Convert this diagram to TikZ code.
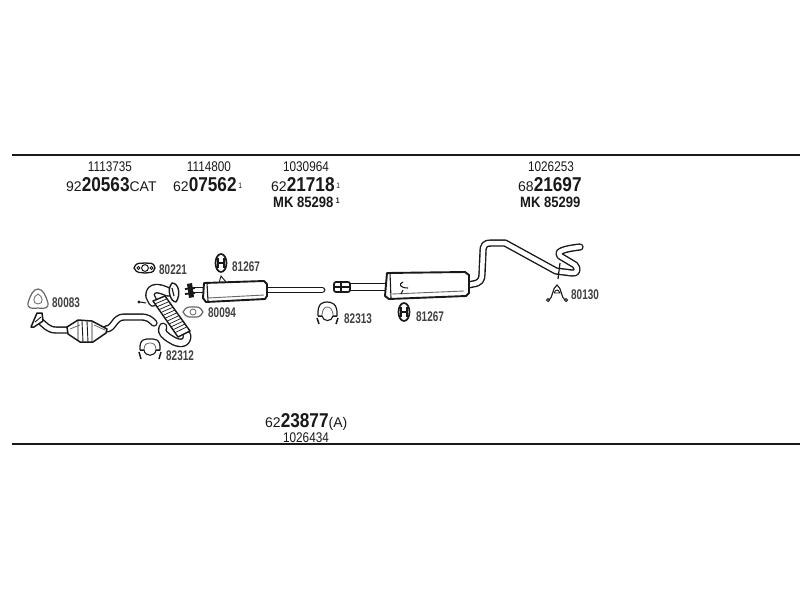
\documentclass[tikz,border=0pt]{standalone}
\usepackage{fontspec}
\usetikzlibrary{calc}
\setmainfont{Liberation Sans}
\newfontfamily\smf[FakeStretch=.84]{Liberation Sans}
\newfontfamily\wdf[FakeStretch=1.0]{Liberation Sans}
\newfontfamily\lblf[FakeStretch=.71]{Liberation Sans}
\newfontfamily\bigf[FakeStretch=.86]{Liberation Sans}
\newfontfamily\mkf[FakeStretch=.87]{Liberation Sans}
\newcommand{\BigN}[1]{{\fontsize{20}{20}\bigf\bfseries #1}}
\newcommand{\SmN}[1]{{\fontsize{14}{14}\wdf #1}}
\newcommand{\SupN}[1]{\raisebox{3.5pt}{\fontsize{8}{8}\smf #1}}
\definecolor{ink}{gray}{.1}
\definecolor{soft}{gray}{.4}
\tikzset{
  rule/.style={ink,line width=1.7pt},
  txt/.style={inner sep=0pt,text=ink,anchor=center},
  num/.style={txt,font=\fontsize{14}{14}\smf},
  lbl/.style={txt,font=\fontsize{14}{14}\lblf\bfseries,text=black!75},
  mk/.style={txt,font=\fontsize{15}{15}\mkf\bfseries},
  pipe/.style={draw=ink,line width=1.4pt,double=white,double distance=#1,line join=round,line cap=round},
  pipe/.default=4pt,
  body/.style={draw=ink,line width=1.9pt,fill=white,line join=round},
  part/.style={draw=ink,line width=1.2pt,fill=none,line join=round},
  thinp/.style={draw=soft,line width=.8pt},
}
\begin{document}
\begin{tikzpicture}[x=1pt,y=-1pt]
\useasboundingbox (0,0) rectangle (800,600);
\fill[white] (0,0) rectangle (800,600);
% rules
\draw[rule] (12,155) -- (800,155);
\draw[rule] (12,444) -- (800,444);
% header texts
\node[num] (a1) at (110,167) {1113735};
\node[txt,anchor=west] (a2) at (66,185) {\SmN{92}\BigN{20563}\SmN{CAT}};
\node[num] (b1) at (209,167) {1114800};
\node[txt,anchor=west] (b2) at (173,185) {\SmN{62}\BigN{07562}\,\SupN{1}};
\node[num] (c1) at (306,167) {1030964};
\node[txt,anchor=west] (c2) at (271,185) {\SmN{62}\BigN{21718}\,\SupN{1}};
\node[mk,anchor=west] (c3) at (273,202) {MK 85298\,\SupN{1}};
\node[num] (d1) at (551,167) {1026253};
\node[txt,anchor=west] (d2) at (518,185) {\SmN{68}\BigN{21697}};
\node[mk,anchor=west] (d3) at (520,202) {MK 85299};
\node[txt,anchor=west,text depth=0pt,text height=13pt] (e1) at (265,421) {\SmN{62}\BigN{23877}\SmN{(A)}};
\node[num,text depth=0pt,text height=9.5pt] (e2) at (306,437.5) {1026434};
% part labels
\node[lbl,anchor=west] (l1) at (52,303) {80083};
\node[lbl,anchor=west] (l2) at (159,270) {80221};
\node[lbl,anchor=west] (l3) at (232,267) {81267};
\node[lbl,anchor=west] (l4) at (208,313) {80094};
\node[lbl,anchor=west] (l5) at (166,356) {82312};
\node[lbl,anchor=west] (l6) at (344,319) {82313};
\node[lbl,anchor=west] (l7) at (416,317) {81267};
\node[lbl,anchor=west] (l8) at (571,295) {80130};
% gasket 80083
\draw[thinp,line width=1.2pt] (38,289) .. controls (43,289) and (46,296) .. (48,303)
  .. controls (49,308) and (45,309) .. (38,308) .. controls (31,309) and (27,308) .. (28,303)
  .. controls (30,296) and (33,289) .. (38,289) -- cycle;
\draw[thinp] (38,294) .. controls (43,296) and (44,304) .. (38,304) .. controls (32,304) and (33,296) .. (38,294) -- cycle;
% front pipe with catalyst
\draw[pipe=4.5pt] (39,320) .. controls (45,325) and (48,330) .. (56,330) -- (68,330);
\draw[body,line width=1.5pt] (31,327) -- (37,313) -- (42,313) -- (43,321) -- (34,327) -- cycle;
\draw[ink,line width=.9pt] (35,322) -- (41,317);
\draw[pipe=4.5pt] (106,329) .. controls (114,329) and (114,317) .. (124,317) -- (140,317) .. controls (148,317) and (150,319) .. (154,323);
\draw[body,line width=1.5pt] (67,327) -- (78,320) -- (92,321) -- (107,329) -- (106,333) -- (93,342) -- (80,342) -- (68,334) -- cycle;
\draw[ink,line width=.9pt] (82,321) -- (83,342) (87,321) -- (88,342) (92,321) -- (92,342) (78,320) -- (78,341);
\draw[soft,line width=.8pt] (70,329) -- (80,325) (94,325) -- (105,330);
% gasket 80221
\draw[draw=ink,line width=1.3pt] (134,268) .. controls (137,261) and (140,264) .. (145,263) .. controls (150,264) and (153,261) .. (155,268) .. controls (153,274) and (150,272) .. (145,273) .. controls (140,272) and (137,274) .. (134,268) -- cycle;
\draw[ink,line width=1pt] (145,268) circle (3.4pt) (138.5,268) circle (1.5pt) (151.5,268) circle (1.5pt);
% flex pipe
\draw[pipe=7pt] (168,292) .. controls (158,287) and (150,287) .. (150,296) -- (153,302);
\draw[body,line width=1.4pt] (172,283) .. controls (179,283) and (181,295) .. (176,302) .. controls (171,302) and (166,290) .. (172,283) -- cycle;
\draw[ink,line width=1.1pt] (172,288) -- (174,296);
\draw[ink,line width=1pt] (140,302) -- (146,303) (139,302) circle (1pt);
\draw[pipe=6pt] (187,335) .. controls (188,345) and (178,344) .. (172,340) .. controls (165,336) and (160,332) .. (163,327);
\draw[body,line width=1.4pt] (153,301) -- (165,296) -- (190,331) -- (178,337) -- cycle;
\foreach \t in {.08,.16,...,.95}{\draw[ink,line width=.7pt] ($(153,301)!\t!(178,337)$) -- ($(165,296)!\t!(190,331)$);}
% clamp 82312
\draw[part] (140,350) .. controls (139,338) and (146,339) .. (150,339) .. controls (154,339) and (161,338) .. (160,350);
\draw[thinp] (144,350) .. controls (144,344) and (147,343) .. (150,343) .. controls (153,343) and (156,344) .. (156,350);
\draw[ink,line width=1.5pt] (140,350) -- (144,350) (156,350) -- (160,350) (139,352) -- (141,359) (161,352) -- (159,359);
\draw[ink,line width=1.1pt] (144,350) .. controls (145,357) and (155,357) .. (156,350);
% flange + cone between flex and muffler
\draw[pipe=3.5pt] (194,290) -- (203,290);
\fill[ink] (187,284) -- (192,283) -- (194,297) -- (189,298) -- cycle;
\draw[ink,line width=1.8pt] (185,289) -- (195,288) (185,294) -- (195,293);
% gasket 80094
\draw[thinp,line width=1.2pt] (183,312) .. controls (186,306) and (190,307) .. (193,307) .. controls (197,307) and (200,306) .. (203,312) .. controls (200,318) and (197,317) .. (193,317) .. controls (190,317) and (186,318) .. (183,312) -- cycle;
\draw[thinp] (193,312) circle (3pt);
% hanger 81267 (upper)
\draw[ink,line width=1.7pt] (221,263) ellipse (5.5pt and 9pt);
\draw[ink,line width=1.3pt] (218,258) -- (218,268) (224,258) -- (224,268) (218,263) -- (224,263);
% muffler 1
\draw[pipe=4pt] (266,290) -- (322,290);
\draw[ink,line width=.9pt] (219,283) -- (221,276) -- (226,282);
\draw[body] (204,283) -- (264,281) -- (267,284) -- (267,296) -- (265,299) -- (206,302) -- (203,298) -- cycle;
\draw[soft,line width=.9pt] (208,298) -- (264,295);
\draw[ink,line width=1.1pt] (207,283) -- (208,301);
% socket + pipe 2
\draw[pipe=6pt] (349,287) -- (386,287);
\draw[ink,line width=1.7pt,fill=white,rounded corners=2pt] (334,282) rectangle (350,292);
\draw[ink,line width=1.2pt] (341,282) -- (341,292);
\draw[ink,line width=1.2pt] (335,287) -- (349,287);
% clamp 82313
\draw[part] (318,316) .. controls (317,303) and (323,302) .. (327,302) .. controls (331,302) and (338,303) .. (337,316);
\draw[thinp] (322,316) .. controls (322,309) and (325,307) .. (327,307) .. controls (330,307) and (333,309) .. (333,316);
\draw[ink,line width=1.5pt] (318,316) -- (322,316) (333,316) -- (337,316) (317,318) -- (319,324) (338,318) -- (336,324);
\draw[ink,line width=1.1pt] (322,316) .. controls (323,322) and (332,322) .. (333,316);
% tail pipe
\draw[pipe=4.5pt] (468,285) -- (473,284) .. controls (480,283) and (482,280) .. (482,274) -- (483,252) .. controls (483,245) and (485,243) .. (491,243) -- (505,243) -- (556,271)
  -- (572,273) .. controls (578,274) and (578,268) .. (575,265) -- (560,256) .. controls (556,252) and (562,249) .. (580,247);
\draw[ink,line width=1.2pt] (560,263) -- (558,279);
% muffler 2
\draw[body] (387,273) -- (465,272) -- (469,275) -- (469,293) -- (466,296) -- (389,299) -- (385,296) -- cycle;
\draw[soft,line width=.9pt] (392,294) -- (464,291);
\draw[ink,line width=1.1pt] (390,273) -- (391,298);
\draw[ink,line width=1.1pt] (408,288) .. controls (400,288) and (398,284) .. (403,282) (403,290) -- (401,294);
% hanger 81267 (lower)
\draw[ink,line width=1.7pt] (404,312) ellipse (5.5pt and 9pt);
\draw[ink,line width=1.3pt] (401,307) -- (401,317) (407,307) -- (407,317) (401,312) -- (407,312);
% hanger 80130
\draw[ink,line width=1.1pt] (549,300) .. controls (553,298) and (552,288) .. (557,285) .. controls (562,288) and (561,298) .. (565,300);
\draw[ink,line width=.9pt] (554,293) .. controls (556,289) and (558,289) .. (560,293) -- (554,293);
\draw[ink,line width=.9pt] (548,300) circle (1.6pt) (566,300) circle (1.6pt);
\end{tikzpicture}
\end{document}
